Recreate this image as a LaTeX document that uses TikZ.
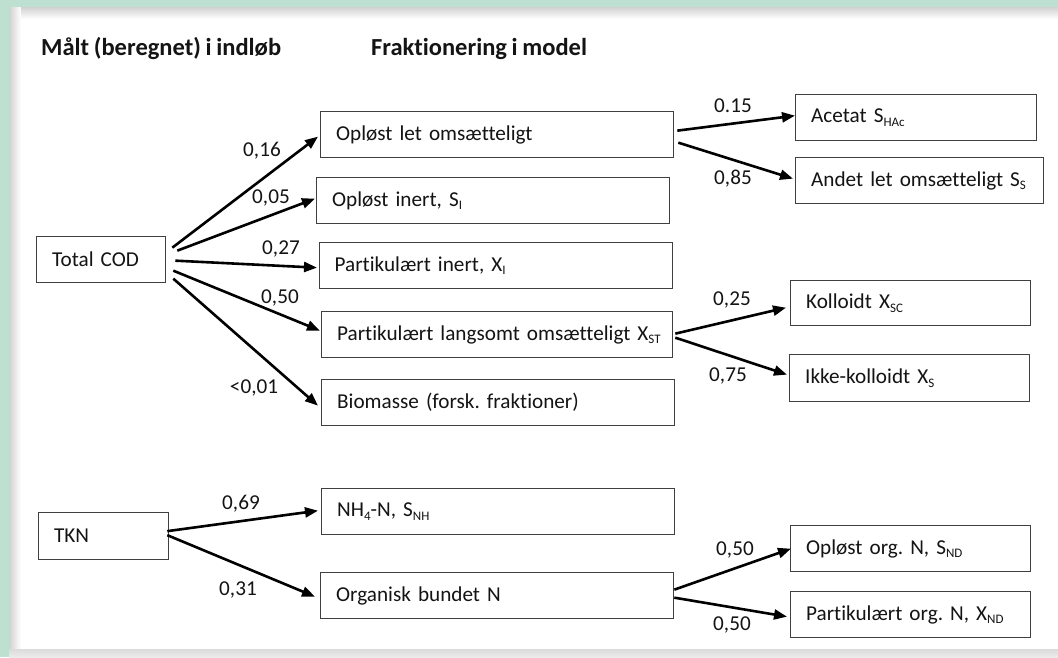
\documentclass[tikz,border=0pt]{standalone}
\usepackage{fontspec}
\setmainfont{Carlito}[Ligatures={NoCommon}, WordSpace=0.85]
\usetikzlibrary{arrows.meta}
\definecolor{bggreen}{HTML}{BDE0D1}
\definecolor{boxc}{HTML}{404040}
\definecolor{txtc}{HTML}{141414}
\frenchspacing
\newcommand{\sbs}[1]{\raisebox{-0.35ex}{\fontsize{13}{14}\selectfont #1}}
\begin{document}
\begin{tikzpicture}[x=1pt,y=-1pt,
  box/.style={draw=boxc, line width=1.3pt, minimum height=46, inner xsep=15.5, inner ysep=0,
    align=left, anchor=north west, text=txtc, font=\fontsize{21.2}{25}\selectfont},
  hdr/.style={anchor=base west, text=txtc, inner sep=0, font=\fontsize{24.5}{28}\selectfont\bfseries},
  lbl/.style={text=txtc, inner sep=0, font=\fontsize{21.2}{25}\selectfont},
  arr/.style={line width=2.6pt, -{Triangle[length=13pt,width=10pt]}}]
\useasboundingbox (0,0) rectangle (1058,657);
\fill[bggreen] (0,0) rectangle (1058,657);
\fill[white] (9,7) rectangle (1058,657);
\shade[left color=black!18, right color=white] (9,7) rectangle (21,649);
\shade[top color=black!18, bottom color=white] (21,7) rectangle (1058,19);
\shade[top color=black!14, bottom color=black!8] (9,649) rectangle (1058,657);
% headers
\node[hdr] (h1) at (41,55) {Målt (beregnet) i indløb};
\node[hdr] (h2) at (371,55) {Fraktionering i model};
% boxes
\node[box, text width=98] (cod) at (36,236) {\mbox{Total COD}};
\node[box, text width=322] (ol) at (320,111) {\mbox{Opløst let omsætteligt}};
\node[box, text width=322] (oi) at (316,177) {\mbox{Opløst inert, S\sbs{I}}};
\node[box, text width=322] (pi) at (318.5,242) {\mbox{Partikulært inert, X\sbs{I}}};
\node[box, text width=320] (pl) at (321,311) {\mbox{Partikulært langsomt omsætteligt X\sbs{ST}}};
\node[box, text width=322] (bio) at (321,379) {\mbox{Biomasse (forsk. fraktioner)}};
\node[box, text width=99, minimum height=47] (tkn) at (38,512) {\mbox{TKN}};
\node[box, text width=322] (nh) at (321,488) {\mbox{NH\sbs{4}-N, S\sbs{NH}}};
\node[box, text width=322] (on) at (320,572) {\mbox{Organisk bundet N}};
\node[box, text width=210] (ac) at (795,94) {\mbox{Acetat S\sbs{HAc}}};
\node[box, text width=217] (an) at (795,157) {\mbox{Andet let omsætteligt S\sbs{S}}};
\node[box, text width=209, minimum height=45] (ko) at (790,280) {\mbox{Kolloidt X\sbs{SC}}};
\node[box, text width=209, minimum height=47] (ik) at (789,354) {\mbox{Ikke-kolloidt X\sbs{S}}};
\node[box, text width=209] (oo) at (790,525) {\mbox{Opløst org. N, S\sbs{ND}}};
\node[box, text width=209] (po) at (790,591) {\mbox{Partikulært org. N, X\sbs{ND}}};
% arrows from Total COD
\draw[arr] ([shift={(6,-12)}]cod.east) -- ([shift={(-2,2)}]ol.west);
\draw[arr] ([shift={(11,-9)}]cod.east) -- ([shift={(-1,-2)}]oi.west);
\draw[arr] ([shift={(9,1)}]cod.east) -- ([shift={(-1.5,2)}]pi.west);
\draw[arr] ([shift={(7,11)}]cod.east) -- ([shift={(-1,-4)}]pl.west);
\draw[arr] ([shift={(7,19)}]cod.east) -- ([shift={(-3,3)}]bio.west);
% TKN
\draw[arr] ([shift={(-2,-5)}]tkn.east) -- ([shift={(-3,-1)}]nh.west);
\draw[arr] ([shift={(-2,-1)}]tkn.east) -- ([shift={(-5,1)}]on.west);
% second level
\draw[arr] ([shift={(3,-4)}]ol.east) -- ([shift={(0,-2)}]ac.west);
\draw[arr] ([shift={(4,8)}]ol.east) -- ([shift={(-2,-2)}]an.west);
\draw[arr] ([shift={(2,-1)}]pl.east) -- ([shift={(-4,4.5)}]ko.west);
\draw[arr] ([shift={(2,3)}]pl.east) -- ([shift={(-2,-3.5)}]ik.west);
\draw[arr] ([shift={(0,-6)}]on.east) -- ([shift={(1,0)}]oo.west);
\draw[arr] ([shift={(0,2)}]on.east) -- ([shift={(-3,2)}]po.west);
% labels
\node[lbl] (l1) at (262,151) {0,16};
\node[lbl] (l2) at (271,198) {0,05};
\node[lbl] (l3) at (281,249) {0,27};
\node[lbl] (l4) at (280,298) {0,50};
\node[lbl] (l5) at (254,388) {<0,01};
\node[lbl] (l6) at (241,504) {0,69};
\node[lbl] (l7) at (238,590) {0,31};
\node[lbl] (l8) at (733,106) {0.15};
\node[lbl] (l9) at (733,179) {0,85};
\node[lbl] (l10) at (732,300) {0,25};
\node[lbl] (l11) at (728,376) {0,75};
\node[lbl] (l12) at (735,550) {0,50};
\node[lbl] (l13) at (732,625) {0,50};
\end{tikzpicture}
\end{document}
